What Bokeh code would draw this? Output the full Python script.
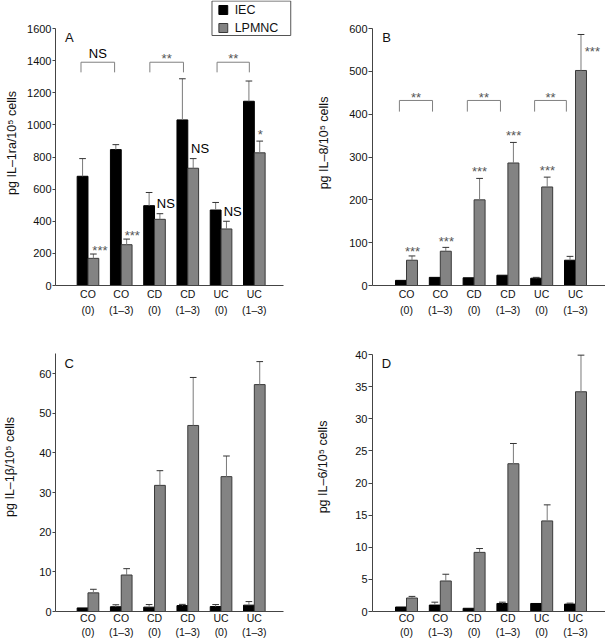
from bokeh.plotting import figure
from bokeh.models import Range1d, FixedTicker
from bokeh.layouts import gridplot
from bokeh.embed import file_html
from bokeh.resources import INLINE
from bokeh.core.properties import value

# ---------------- data ----------------
groups = ["CO\n(0)", "CO\n(1–3)", "CD\n(0)", "CD\n(1–3)", "UC\n(0)", "UC\n(1–3)"]
series_names = ["IEC", "LPMNC"]

il1ra_iec = [680, 846, 497, 1031, 470, 1147]
il1ra_iec_err = [790, 877, 579, 1287, 517, 1273]
il1ra_lp = [169, 254, 412, 730, 352, 826]
il1ra_lp_err = [196, 289, 447, 790, 400, 899]

il8_iec = [12, 19, 18, 24, 17, 59]
il8_iec_err = [12, 19, 18, 24, 19, 68]
il8_lp = [59, 80, 200, 286, 230, 502]
il8_lp_err = [69, 89, 250, 334, 253, 586]

il1b_iec = [0.9, 1.2, 1.1, 1.5, 1.25, 1.6]
il1b_iec_err = [0.9, 1.7, 1.75, 1.8, 1.75, 2.5]
il1b_lp = [4.7, 9.2, 31.8, 46.9, 34.0, 57.2]
il1b_lp_err = [5.6, 10.8, 35.5, 59.0, 39.2, 63.0]

il6_iec = [0.7, 1.0, 0.5, 1.25, 1.25, 1.15]
il6_iec_err = [0.7, 1.45, 0.5, 1.45, 1.25, 1.3]
il6_lp = [2.1, 4.75, 9.2, 23.0, 14.1, 34.2]
il6_lp_err = [2.35, 5.8, 9.8, 26.15, 16.6, 39.9]

# significance marks above the LPMNC bars (text, x in group units, y in data units)
a_sig_text = ["***", "***", "NS", "NS", "NS", "*"]
a_sig_x = [0.36, 1.33, 2.34, 3.37, 4.35, 5.18]
a_sig_y = [237, 330, 510, 853, 461, 959]
b_sig_text = ["***", "***", "***", "***", "***", "***"]
b_sig_x = [0.18, 1.18, 2.16, 3.17, 4.17, 5.50]
b_sig_y = [86, 110, 273, 357, 275, 553]

# pairwise comparison brackets
a_pair_text = ["NS", "**", "**"]
a_pair_x0 = [-0.21, 1.86, 3.88]
a_pair_x1 = [0.80, 2.87, 4.85]
a_pair_top = 1390
a_pair_leg = 1327
a_pair_label_y = [1444, 1432, 1432]

b_pair_text = ["**", "**", "**"]
b_pair_x0 = [-0.21, 1.80, 3.79]
b_pair_x1 = [0.77, 2.78, 4.73]
b_pair_top = 432
b_pair_leg = 406
b_pair_label_y = [446, 446, 446]

y_titles = ["pg IL–1ra/10⁵ cells", "pg IL–8/10⁵ cells",
            "pg IL–1β/10⁵ cells", "pg IL–6/10⁵ cells"]
panel_letters = ["A", "B", "C", "D"]

# ---------------- style ----------------
FONT = "Liberation Sans"
PX_X = 33.8          # pixels per group
BW = 0.325           # bar width (group units)
CAP = 0.2
GREY = "#838383"
GREY_LINE = "#3a3a3a"
ERR_COL = "#7a7a7a"
TXT = "#111111"


def build(width, height, bl, bb, x_left, y_max, y_ticks, y_axis_top, x_axis_right,
          tick_out, title, title_standoff, lab_lh, lab_standoff):
    frame_w = width - bl
    x_right = x_left + frame_w / PX_X
    p = figure(width=width, height=height, output_backend="svg", toolbar_location=None,
               tools="", x_range=Range1d(x_left, x_right), y_range=Range1d(0, y_max),
               min_border_left=bl, min_border_right=0, min_border_top=0,
               min_border_bottom=bb)
    p.outline_line_color = None
    p.grid.visible = False
    p.background_fill_color = "white"
    p.border_fill_color = "white"

    ya = p.yaxis[0]
    ya.ticker = FixedTicker(ticks=y_ticks)
    ya.bounds = (0, y_axis_top)
    ya.major_tick_in = 0
    ya.major_tick_out = tick_out
    ya.minor_tick_in = 0
    ya.minor_tick_out = 0
    ya.axis_line_color = "#444444"
    ya.major_tick_line_color = "#444444"
    ya.major_label_text_font = FONT
    ya.major_label_text_font_size = "11px"
    ya.major_label_text_color = TXT
    ya.major_label_standoff = 1
    ya.axis_label = title
    ya.axis_label_text_font = FONT
    ya.axis_label_text_font_size = "12.5px"
    ya.axis_label_text_font_style = "normal"
    ya.axis_label_text_color = TXT
    ya.axis_label_standoff = title_standoff

    xa = p.xaxis[0]
    xa.ticker = FixedTicker(ticks=list(range(len(groups))))
    xa.major_label_overrides = {i: g for i, g in enumerate(groups)}
    xa.bounds = (x_left, x_axis_right)
    xa.major_tick_in = 0
    xa.major_tick_out = 0
    xa.minor_tick_in = 0
    xa.minor_tick_out = 0
    xa.axis_line_color = "#444444"
    xa.major_label_text_font = FONT
    xa.major_label_text_font_size = "10.5px"
    xa.major_label_text_color = TXT
    xa.major_label_standoff = lab_standoff
    xa.major_label_text_line_height = lab_lh
    return p


def draw_bars(p, iec, iec_err, lp, lp_err):
    xs = list(range(len(groups)))
    p.vbar(x=[x - BW / 2 for x in xs], top=iec, width=BW, bottom=0,
           fill_color="black", line_color="black", line_width=1)
    p.vbar(x=[x + BW / 2 for x in xs], top=lp, width=BW, bottom=0,
           fill_color=GREY, line_color=GREY_LINE, line_width=1)
    for vals, errs, off in ((iec, iec_err, -BW / 2), (lp, lp_err, BW / 2)):
        ex = [x + off for x, v, e in zip(xs, vals, errs) if e > v]
        ev = [v for v, e in zip(vals, errs) if e > v]
        ee = [e for v, e in zip(vals, errs) if e > v]
        p.segment(x0=ex, y0=ev, x1=ex, y1=ee, line_color=ERR_COL, line_width=1)
        p.segment(x0=[x - CAP / 2 for x in ex], y0=ee, x1=[x + CAP / 2 for x in ex],
                  y1=ee, line_color="#333333", line_width=1)


def add_text(p, xs, ys, texts, size, color, align="center"):
    p.text(x=xs, y=ys, text=texts, text_font=value(FONT), text_font_size=value(size),
           text_color=color, text_align=align, text_baseline="middle")


def add_sig(p, xs, ys, texts):
    stars = [i for i, t in enumerate(texts) if "*" in t]
    ns = [i for i, t in enumerate(texts) if "*" not in t]
    if stars:
        p.text(x=[xs[i] for i in stars], y=[ys[i] for i in stars],
               text=[texts[i] for i in stars], text_font=value(FONT),
               text_font_size=value("13px"), text_color="#555555",
               text_align="center", text_baseline="middle", y_offset=3)
    if ns:
        add_text(p, [xs[i] for i in ns], [ys[i] for i in ns], [texts[i] for i in ns],
                 "13px", "#000000")


def add_brackets(p, x0, x1, top, leg, texts, label_y):
    p.multi_line(xs=[[a, a, b, b] for a, b in zip(x0, x1)],
                 ys=[[leg, top, top, leg] for _ in x0],
                 line_color="#808080", line_width=1)
    add_sig(p, [(a + b) / 2 for a, b in zip(x0, x1)], label_y, texts)


# ---------------- panel geometry (page pixels) ----------------
# top row: x-axis at y=285, top tick at y=28; bottom row: x-axis at y=611
A = build(305, 322, 51, 37, (51 - 84) / PX_X, 1600 * 285 / 257,
          list(range(0, 1601, 200)), 1600, (283 - 84) / PX_X, 3, y_titles[0], 5, 1.4, 2)
B = build(300, 322, 67, 37, (372 - 406) / PX_X, 600 * 285 / 257,
          list(range(0, 601, 100)), 600, (605 - 406) / PX_X, 4, y_titles[1], 15, 1.4, 2)
C = build(305, 318, 51, 29, (51 - 84) / PX_X, 60 * 289 / 238,
          list(range(0, 61, 10)), 65, (283 - 84) / PX_X, 3, y_titles[2], 19, 1.2, 0)
D = build(300, 318, 67, 29, (372 - 406) / PX_X, 40 * 289 / 257,
          list(range(0, 41, 5)), 40, (605 - 406) / PX_X, 4, y_titles[3], 22, 1.2, 0)

draw_bars(A, il1ra_iec, il1ra_iec_err, il1ra_lp, il1ra_lp_err)
draw_bars(B, il8_iec, il8_iec_err, il8_lp, il8_lp_err)
draw_bars(C, il1b_iec, il1b_iec_err, il1b_lp, il1b_lp_err)
draw_bars(D, il6_iec, il6_iec_err, il6_lp, il6_lp_err)

add_sig(A, a_sig_x, a_sig_y, a_sig_text)
add_sig(B, b_sig_x, b_sig_y, b_sig_text)
add_brackets(A, a_pair_x0, a_pair_x1, a_pair_top, a_pair_leg, a_pair_text, a_pair_label_y)
add_brackets(B, b_pair_x0, b_pair_x1, b_pair_top, b_pair_leg, b_pair_text, b_pair_label_y)

add_text(A, [(65 - 84) / PX_X], [(285 - 37) * 1600 / 257], [panel_letters[0]], "13px", TXT)
add_text(B, [(386 - 406) / PX_X], [(285 - 37) * 600 / 257], [panel_letters[1]], "13px", TXT)
add_text(C, [(65 - 84) / PX_X], [(611 - 363) * 60 / 238], [panel_letters[2]], "13px", TXT)
add_text(D, [(386 - 406) / PX_X], [(611 - 363) * 40 / 257], [panel_letters[3]], "13px", TXT)


# legend (drawn in panel A's frame, top right)
def lx(px):
    return (px - 84) / PX_X


def ly(py):
    return (285 - py) * 1600 / 257


A.quad(left=[lx(210)], right=[lx(290)], top=[ly(0.5)], bottom=[ly(35)],
       fill_color="white", line_color="#555555", line_width=1)
A.quad(left=[lx(217), lx(217)], right=[lx(226), lx(226)],
       top=[ly(5), ly(23)], bottom=[ly(14), ly(32)],
       fill_color=["black", GREY], line_color=["black", GREY_LINE], line_width=1)
add_text(A, [lx(233), lx(233)], [ly(9.5), ly(27.5)], series_names, "12.5px", TXT, "left")

grid = gridplot([[A, B], [C, D]], toolbar_location=None)

open("out.html", "w").write(file_html(grid, INLINE))
